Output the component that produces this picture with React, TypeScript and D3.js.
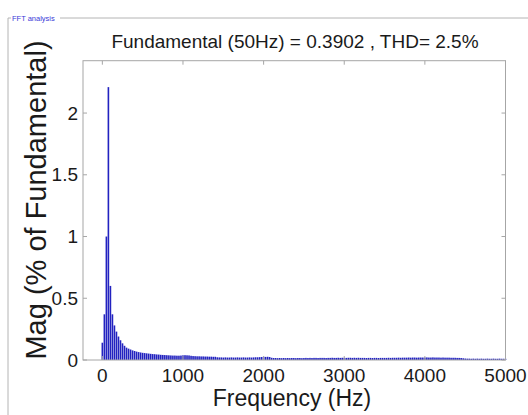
import React from "react";
import * as d3 from "d3";

const FREQS: number[] = d3.range(0, 5001, 25);
const MAGS: number[] = [
  0.14, 0.37, 1.0, 2.21, 0.6, 0.37, 0.28, 0.23, 0.19, 0.16,
  0.135, 0.115, 0.1, 0.092, 0.085, 0.078, 0.073, 0.068, 0.064, 0.061,
  0.058, 0.056, 0.054, 0.052, 0.05, 0.048, 0.047, 0.045, 0.044, 0.042,
  0.041, 0.04, 0.039, 0.038, 0.037, 0.036, 0.036, 0.035, 0.035, 0.036,
  0.038, 0.039, 0.038, 0.037, 0.034, 0.032, 0.031, 0.03, 0.03, 0.029,
  0.029, 0.028, 0.028, 0.027, 0.027, 0.026, 0.026, 0.022, 0.021, 0.021,
  0.02, 0.021, 0.02, 0.02, 0.021, 0.02, 0.02, 0.021, 0.02, 0.02,
  0.021, 0.02, 0.02, 0.021, 0.02, 0.021, 0.022, 0.022, 0.023, 0.024,
  0.026, 0.025, 0.026, 0.024, 0.018, 0.016, 0.016, 0.015, 0.016, 0.015,
  0.016, 0.015, 0.016, 0.015, 0.016, 0.016, 0.015, 0.016, 0.016, 0.015,
  0.016, 0.017, 0.016, 0.017, 0.016, 0.017, 0.017, 0.016, 0.017, 0.017,
  0.017, 0.016, 0.017, 0.017, 0.018, 0.017, 0.017, 0.018, 0.017, 0.018,
  0.018, 0.017, 0.018, 0.018, 0.017, 0.018, 0.017, 0.018, 0.017, 0.017,
  0.017, 0.016, 0.017, 0.017, 0.016, 0.017, 0.017, 0.016, 0.017, 0.017,
  0.017, 0.017, 0.018, 0.017, 0.018, 0.018, 0.018, 0.019, 0.018, 0.019,
  0.019, 0.019, 0.02, 0.019, 0.02, 0.02, 0.019, 0.02, 0.02, 0.02,
  0.02, 0.021, 0.02, 0.02, 0.021, 0.02, 0.02, 0.02, 0.019, 0.02,
  0.019, 0.019, 0.019, 0.018, 0.018, 0.018, 0.017, 0.017, 0.016, 0.014,
  0.012, 0.011, 0.011, 0.01, 0.011, 0.01, 0.011, 0.01, 0.011, 0.01,
  0.01, 0.011, 0.01, 0.01, 0.011, 0.01, 0.01, 0.011, 0.01, 0.01,
  0.01,
];
const X_TICKS: number[] = [0, 1000, 2000, 3000, 4000, 5000];
const Y_TICKS: number[] = [0, 0.5, 1, 1.5, 2];
const TITLE = "Fundamental (50Hz) = 0.3902 , THD= 2.5%";
const X_LABEL = "Frequency (Hz)";
const Y_LABEL = "Mag (% of Fundamental)";
const PANEL_LABEL = "FFT analysis";

const W = 528;
const H = 415;
const L = 83, R = 505.5, T = 60.7, B = 360;
const FONT = "'Liberation Sans', Arial, sans-serif";

export default function App() {
  const x = d3.scaleLinear().domain([-240, 5000]).range([L, R]);
  const y = d3.scaleLinear().domain([0, 2.424]).range([B, T]);
  const bw = (x(25) - x(0)) * 0.8;
  const axisColor = "#a6a6a6";
  const tl = 4;
  return (
    <svg width={W} height={H} style={{ position: "absolute", left: 0, top: 0, background: "#fff" }}>
      <rect x={0} y={0} width={W} height={H} fill="#fff" />
      {/* panel frame */}
      <line x1={8} y1={18} x2={11} y2={18} stroke="#b4b4b4" />
      <line x1={60} y1={18} x2={W} y2={18} stroke="#b4b4b4" />
      <line x1={8} y1={18} x2={8} y2={H} stroke="#b4b4b4" />
      <text x={12} y={21} fontFamily={FONT} fontSize={7.5} fill="#3a3ad8">{PANEL_LABEL}</text>
      {/* bars */}
      <g fill="#2222c0">
        {FREQS.map((f, i) => (
          <rect key={i} x={x(f) - bw / 2} y={y(MAGS[i])} width={bw} height={B - y(MAGS[i])} />
        ))}
      </g>
      {/* axes box */}
      <rect x={L} y={T} width={R - L} height={B - T} fill="none" stroke={axisColor} />
      {X_TICKS.map((t) => (
        <g key={"x" + t}>
          <line x1={x(t)} x2={x(t)} y1={B} y2={B - tl} stroke={axisColor} />
          <line x1={x(t)} x2={x(t)} y1={T} y2={T + tl} stroke={axisColor} />
          <text x={x(t)} y={382} textAnchor="middle" fontFamily={FONT} fontSize={19} fill="#1a1a1a">{t}</text>
        </g>
      ))}
      {Y_TICKS.map((t) => (
        <g key={"y" + t}>
          <line x1={L} x2={L + tl} y1={y(t)} y2={y(t)} stroke={axisColor} />
          <line x1={R} x2={R - tl} y1={y(t)} y2={y(t)} stroke={axisColor} />
          <text x={78} y={y(t)} dy="0.35em" textAnchor="end" fontFamily={FONT} fontSize={19} fill="#1a1a1a">{t}</text>
        </g>
      ))}
      <text x={295} y={48} textAnchor="middle" fontFamily={FONT} fontSize={19} fill="#1a1a1a">{TITLE}</text>
      <text x={292} y={406} textAnchor="middle" fontFamily={FONT} fontSize={23} fill="#1a1a1a">{X_LABEL}</text>
      <text transform={`translate(46,200) rotate(-90)`} textAnchor="middle" fontFamily={FONT} fontSize={29} fill="#1a1a1a">{Y_LABEL}</text>
    </svg>
  );
}
